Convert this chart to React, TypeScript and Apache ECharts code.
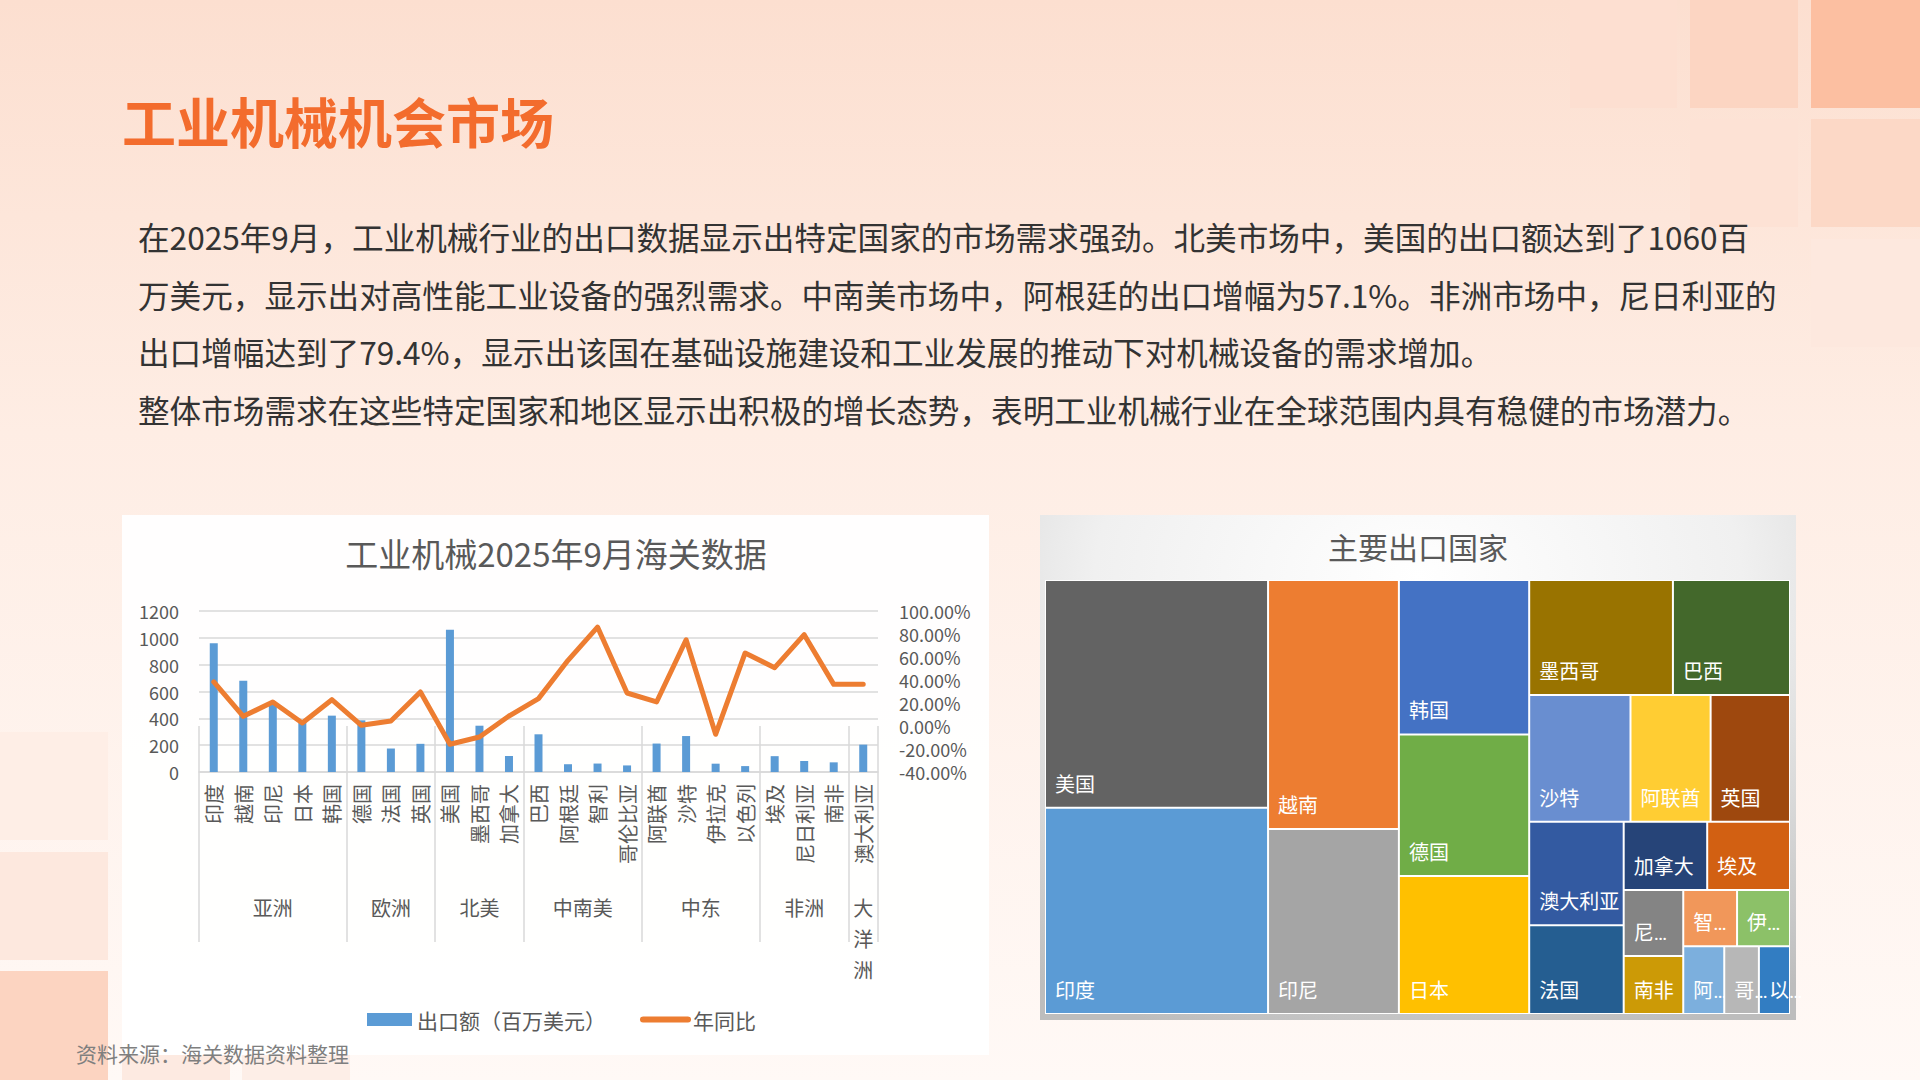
import React, { useEffect, useRef } from 'react';
import * as echarts from 'echarts';

const FONT = '"Noto Sans CJK SC", "Noto Sans", sans-serif';
const TILE_FONT = 'Roboto, "Noto Sans CJK SC", sans-serif';

// ---------- Combo chart data ----------
const countries = ['印度', '越南', '印尼', '日本', '韩国', '德国', '法国', '英国', '美国', '墨西哥', '加拿大', '巴西', '阿根廷', '智利', '哥伦比亚', '阿联酋', '沙特', '伊拉克', '以色列', '埃及', '尼日利亚', '南非', '澳大利亚'];
const exportValues = [960, 680, 505, 375, 420, 385, 175, 210, 1060, 345, 119, 281, 58, 63, 49, 212, 268, 62, 44, 118, 82, 72, 204];
const yoyValues = [38.3, 8.4, 20.9, 2.6, 22.9, 0.6, 4.3, 29.6, -15.9, -9.6, 8.7, 23.8, 57.1, 86.0, 28.7, 20.9, 75.0, -7.2, 63.5, 50.7, 79.4, 36.2, 36.2];
const regionNames = ['亚洲', '欧洲', '北美', '中南美', '中东', '非洲', '大洋洲'];
const regionSizes = [5, 3, 3, 4, 4, 3, 1];
const exportAxisMin = 0;
const exportAxisMax = 1200;
const exportAxisStep = 200;
const yoyAxisMin = -40;
const yoyAxisMax = 100;
const yoyAxisStep = 20;
const legendNames = ['出口额（百万美元）', '年同比'];

// ---------- Treemap ----------
const treemapColors = ['#5B9BD5', '#ED7D31', '#A5A5A5', '#FFC000', '#4472C4', '#70AD47', '#255E91', '#9E480E', '#636363', '#997300', '#264478', '#43682B', '#7CAFDD', '#F1975A', '#B7B7B7', '#FFCD33', '#698ED0', '#8CC168', '#327DC2', '#D26012', '#848484', '#CC9A06', '#335AA1'];
// nesting of the tiles (which tiles share a strip)
const treemapNesting: any[] = [
  ['美国', '印度'],
  [
    ['越南', '印尼'],
    [
      ['韩国', ['德国', '日本']],
      [
        ['墨西哥', '巴西'],
        [
          ['沙特', ['阿联酋', '英国']],
          [
            ['澳大利亚', '法国'],
            [
              ['加拿大', '埃及'],
              [
                ['尼日利亚', '南非'],
                [
                  ['智利', '伊拉克'],
                  ['阿根廷', ['哥伦比亚', '以色列']],
                ],
              ],
            ],
          ],
        ],
      ],
    ],
  ],
];

// ---------- Slide texts ----------
const slideTitle = '工业机械机会市场';
const paragraphLines = [
  '在2025年9月，工业机械行业的出口数据显示出特定国家的市场需求强劲。北美市场中，美国的出口额达到了1060百',
  '万美元，显示出对高性能工业设备的强烈需求。中南美市场中，阿根廷的出口增幅为57.1%。非洲市场中，尼日利亚的',
  '出口增幅达到了79.4%，显示出该国在基础设施建设和工业发展的推动下对机械设备的需求增加。',
  '整体市场需求在这些特定国家和地区显示出积极的增长态势，表明工业机械行业在全球范围内具有稳健的市场潜力。',
];
const sourceNote = '资料来源：海关数据资料整理';
const comboTitle = '工业机械2025年9月海关数据';
const treemapTitle = '主要出口国家';

const TILE_LABEL_SIZE = 20;

function buildOption(tileWidths: Record<string, number> | null) {
  let grp = 0;
  const buildNode = (n: any): any => {
    if (typeof n === 'string') {
      const i = countries.indexOf(n);
      const leaf: any = {
        name: n,
        value: exportValues[i],
        itemStyle: { color: treemapColors[i], borderWidth: 1, borderColor: '#ffffff' },
      };
      if (tileWidths && tileWidths[n] != null) {
        const fits = n.length * TILE_LABEL_SIZE <= tileWidths[n] - 14.2;
        if (!fits) {
          leaf.label = { formatter: n.charAt(0) + '…', overflow: 'none' };
        }
      }
      return leaf;
    }
    grp += 1;
    return { name: 'grp' + grp, children: n.map(buildNode), itemStyle: { borderWidth: 0, gapWidth: 0 } };
  };
  const treeData = treemapNesting.map(buildNode);

  // second category axis: half-slots so that region boundaries / centres fall on points
  const slotCount = countries.length * 2 + 1;
  const slotKeys = Array.from({ length: slotCount }, (_, i) => String(i));
  const boundarySlots = new Set<number>();
  const regionLabelAt: Record<number, string> = {};
  let start = 0;
  regionSizes.forEach((n, k) => {
    boundarySlots.add(start * 2);
    const name = regionNames[k];
    regionLabelAt[start * 2 + n] = n === 1 ? name.split('').join('\n') : name;
    start += n;
  });
  boundarySlots.add(start * 2);

  const txt = (text: string, x: number, y: number, size: number, fill: string, extra: any = {}) => ({
    type: 'text',
    x,
    y,
    z: 50,
    silent: true,
    style: {
      text,
      fill,
      fontSize: size,
      fontFamily: FONT,
      fontWeight: extra.bold ? 'bold' : 'normal',
      align: extra.align || 'left',
      textAlign: extra.align || 'left',
      verticalAlign: 'middle',
      textVerticalAlign: 'middle',
    },
  });
  const box = (x: number, y: number, w: number, h: number, fill: any, z = -20, opacity = 1) => ({
    type: 'rect',
    z,
    silent: true,
    shape: { x, y, width: w, height: h },
    style: { fill, opacity },
  });

  const graphic: any[] = [
    box(0, 0, 1920, 1080, {
      type: 'linear', x: 0, y: 0, x2: 0, y2: 1,
      colorStops: [
        { offset: 0, color: '#FCDFD0' },
        { offset: 0.4, color: '#FEEDE4' },
        { offset: 1, color: '#FFF9F6' },
      ],
    }, -40),
    // decorative squares (top right)
    box(1570, 0, 107, 108, '#FDDFD1', -30),
    box(1690, 0, 108, 108, '#FCD5C2', -30),
    box(1811, 0, 109, 108, '#FCBFA1', -30),
    box(1690, 119, 108, 108, '#FDE2D5', -30),
    box(1811, 119, 109, 108, '#FCD8C6', -30),
    box(1811, 239, 109, 108, '#FDE8DE', -30),
    // decorative squares (bottom left)
    box(0, 732, 108, 108, '#FEEEE6', -30),
    box(0, 852, 108, 108, '#FDE8DE', -30),
    box(0, 971, 108, 109, '#FCD4C1', -30),
    box(122, 1055, 108, 25, '#FDEAE1', -30),
    box(242, 1055, 108, 25, '#FDEEE7', -30),
    // chart panels
    box(122, 515, 867, 540, '#FFFFFF', -20, 0.93),
    box(1040, 515, 756, 505, {
      type: 'radial', x: 0.5, y: 0.12, r: 0.95,
      colorStops: [
        { offset: 0, color: '#FFFFFF' },
        { offset: 0.45, color: '#F0F0F0' },
        { offset: 1, color: '#BDBDBD' },
      ],
    }, -20),
    // texts
    txt(slideTitle, 122, 120, 54, '#F36C2D', { bold: true }),
    ...paragraphLines.map((line, i) => txt(line, 138, 236 + i * 57.7, 31.6, '#333333')),
    txt(sourceNote, 76, 1053, 21, '#7F7F7F'),
    txt(comboTitle, 556, 553, 33, '#595959', { align: 'center' }),
    txt(treemapTitle, 1418, 546, 30, '#595959', { align: 'center' }),
  ];

  return {
    animation: false,
    textStyle: { fontFamily: FONT },
    graphic,
    legend: {
      data: [
        { name: legendNames[0], icon: 'rect' },
        { name: legendNames[1], itemStyle: { opacity: 0 }, lineStyle: { width: 6, color: '#ED7D31' } },
      ],
      left: 362,
      top: 1004,
      itemWidth: 45,
      itemHeight: 13,
      itemGap: 34,
      selectedMode: false,
      textStyle: { fontSize: 21, color: '#595959', fontFamily: FONT },
    },
    grid: { left: 199, top: 611, width: 679, height: 161, containLabel: false },
    xAxis: [
      {
        type: 'category',
        data: countries,
        position: 'bottom',
        axisLine: { show: true, lineStyle: { color: '#D9D9D9', width: 1.5 } },
        axisTick: { show: false },
        axisLabel: { interval: 0, rotate: 90, margin: 12, fontSize: 20, color: '#595959', fontFamily: FONT },
      },
      {
        type: 'category',
        data: slotKeys,
        position: 'bottom',
        boundaryGap: false,
        axisLine: { show: false },
        axisTick: {
          show: true,
          length: 216,
          interval: (idx: number) => boundarySlots.has(idx),
          lineStyle: { color: '#D9D9D9', width: 1.5 },
        },
        axisLabel: {
          show: true,
          interval: 0,
          margin: 120,
          fontSize: 20,
          lineHeight: 31,
          color: '#595959',
          fontFamily: FONT,
          formatter: (v: string) => regionLabelAt[Number(v)] || '',
        },
        splitLine: { show: false },
      },
    ],
    yAxis: [
      {
        type: 'value',
        min: exportAxisMin,
        max: exportAxisMax,
        interval: exportAxisStep,
        axisLine: { show: false },
        axisTick: { show: false },
        axisLabel: { fontSize: 18, color: '#595959', margin: 20, fontFamily: FONT, formatter: (v: number) => String(v) },
        splitLine: { lineStyle: { color: '#D9D9D9', width: 1.5 } },
      },
      {
        type: 'value',
        position: 'right',
        min: yoyAxisMin,
        max: yoyAxisMax,
        interval: yoyAxisStep,
        axisLine: { show: false },
        axisTick: { show: false },
        axisLabel: {
          fontSize: 18,
          color: '#595959',
          margin: 21,
          fontFamily: FONT,
          formatter: (v: number) => v.toFixed(2) + '%',
        },
        splitLine: { show: false },
      },
    ],
    series: [
      {
        name: legendNames[0],
        type: 'bar',
        xAxisIndex: 0,
        yAxisIndex: 0,
        data: exportValues,
        barWidth: 8,
        itemStyle: { color: '#5B9BD5' },
        silent: true,
      },
      {
        name: legendNames[1],
        type: 'line',
        xAxisIndex: 0,
        yAxisIndex: 1,
        data: yoyValues,
        symbol: 'none',
        z: 3,
        lineStyle: { color: '#ED7D31', width: 5, join: 'round', cap: 'round' },
        itemStyle: { color: '#ED7D31' },
        silent: true,
      },
      {
        name: treemapTitle,
        type: 'treemap',
        left: 1045,
        top: 580,
        width: 745,
        height: 434,
        squareRatio: 1.135,
        sort: false,
        roam: false,
        nodeClick: false,
        silent: true,
        breadcrumb: { show: false },
        itemStyle: { borderWidth: 0, gapWidth: 0, borderColor: '#ffffff' },
        upperLabel: { show: false },
        label: {
          show: true,
          position: 'insideBottomLeft',
          distance: 5,
          padding: [0, 4, 7, 4],
          fontSize: TILE_LABEL_SIZE,
          color: '#ffffff',
          fontFamily: TILE_FONT,
          ellipsis: '…',
        },
        data: treeData,
      },
    ],
  };
}

function readTileWidths(chart: any): Record<string, number> | null {
  try {
    const model = chart.getModel();
    const s = model.getSeriesByType('treemap')[0];
    const data = s.getData();
    const out: Record<string, number> = {};
    for (let i = 0; i < data.count(); i++) {
      const lay = data.getItemLayout(i);
      if (lay) out[data.getName(i)] = lay.width;
    }
    return out;
  } catch (e) {
    return null;
  }
}

export default function App() {
  const ref = useRef<HTMLDivElement>(null);
  useEffect(() => {
    document.body.style.margin = '0';
    document.body.style.overflow = 'hidden';
    const chart = echarts.init(ref.current as HTMLDivElement, null, { renderer: 'svg' });
    chart.setOption(buildOption(null) as any);
    const widths = readTileWidths(chart);
    if (widths) chart.setOption(buildOption(widths) as any, { notMerge: true });
    return () => {
      chart.dispose();
    };
  }, []);
  return <div ref={ref} style={{ position: 'absolute', left: 0, top: 0, width: 1920, height: 1080 }} />;
}
